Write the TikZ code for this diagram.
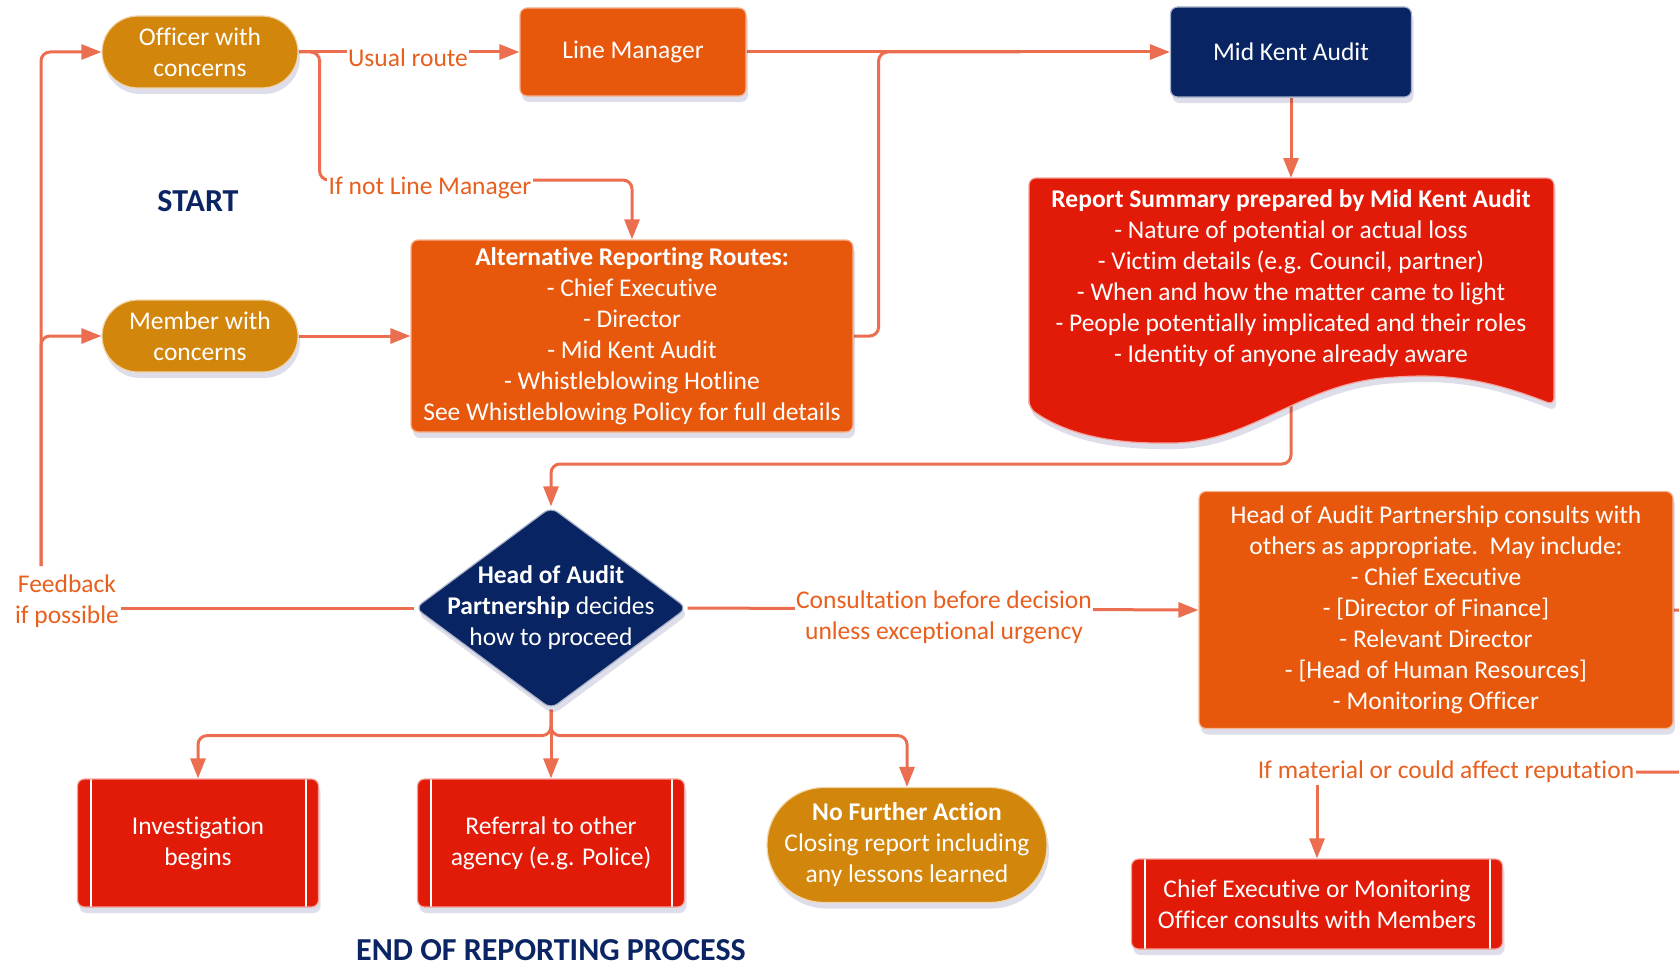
\documentclass[tikz,border=0pt]{standalone}
\usepackage{fontspec}
\setmainfont{Carlito}[Ligatures=NoCommon,RawFeature={-calt,-clig,-liga}]
\usetikzlibrary{shapes.geometric,arrows.meta,shadows,calc}
\pgfdeclarelayer{bg}
\pgfsetlayers{bg,main}
\definecolor{orbox}{RGB}{232,88,12}
\definecolor{gold}{RGB}{211,134,12}
\definecolor{navy}{RGB}{8,36,98}
\definecolor{redbox}{RGB}{226,26,8}
\definecolor{cline}{RGB}{236,110,80}
\definecolor{lbl}{RGB}{232,95,30}
\definecolor{titlenavy}{RGB}{11,36,99}
\newcommand{\bodyfont}{\fontsize{25.5}{31}\selectfont}
\newcommand{\bigfont}{\fontsize{32}{38}\selectfont\bfseries}
\begin{document}
\begin{tikzpicture}[x=1pt,y=-1pt,
  shad/.style={drop shadow={shadow xshift=2pt,shadow yshift=-6pt,opacity=0.13,fill=black!60!blue}},
  base/.style={rectangle, inner sep=0pt, text=white, align=center, font=\bodyfont, line width=1.2pt, shad},
  obox/.style={base, fill=orbox, draw=orbox!45!white, rounded corners=7pt},
  nbox/.style={base, fill=navy, draw=navy!35!white, rounded corners=7pt},
  pill/.style={base, fill=gold, draw=gold!35!white, rounded corners=#1},
  pbox/.style={base, fill=redbox, draw=redbox!40!white, rounded corners=7pt,
    path picture={\draw[white,line width=2pt]
      ([xshift=13pt]path picture bounding box.north west) -- ([xshift=13pt]path picture bounding box.south west)
      ([xshift=-13pt]path picture bounding box.north east) -- ([xshift=-13pt]path picture bounding box.south east);}},
  conn/.style={draw=cline, line width=3pt, rounded corners=9pt},
  arr/.style={conn, -{Triangle[length=20pt,width=15pt]}},
  lab/.style={fill=white, text=lbl, font=\bodyfont, align=center, inner sep=1.5pt},
]
\useasboundingbox (0,0) rectangle (1679,966);

% nodes
\node[pill=36pt, minimum width=196pt, minimum height=72pt] (off) at (200,52) {Officer with\\concerns};
\node[obox, minimum width=226pt, minimum height=88pt] (lm) at (633,52) {Line Manager};
\node[nbox, minimum width=241pt, minimum height=90pt] (mka) at (1291,52) {Mid Kent Audit};
\node[font=\bigfont, text=titlenavy] (start) at (198,201) {START};
\node[obox, minimum width=442pt, minimum height=192pt] (alt) at (632,336)
  {\textbf{Alternative Reporting Routes:}\\- Chief Executive\\- Director\\- Mid Kent Audit\\- Whistleblowing Hotline\\See Whistleblowing Policy for full details};
\node[pill=36pt, minimum width=196pt, minimum height=72pt] (mem) at (200,336) {Member with\\concerns};

% report summary (document shape)
\path[fill=redbox, draw=redbox!40!white, line width=1.2pt, rounded corners=7pt, shad]
  (1029,408) -- (1029,178) -- (1554,178) -- (1554,405)
  .. controls (1490,380) and (1450,374) .. (1395,377)
  .. controls (1300,384) and (1250,443) .. (1165,443)
  .. controls (1100,443) and (1060,430) .. (1029,408) -- cycle;
\node[text=white, font=\bodyfont, align=center, inner sep=0pt] (rep) at (1291,278)
  {\textbf{Report Summary prepared by Mid Kent Audit}\\- Nature of potential or actual loss\\- Victim details (e.g. Council, partner)\\- When and how the matter came to light\\- People potentially implicated and their roles\\- Identity of anyone already aware};
\coordinate (reptop) at (1291,178);
\coordinate (repbot) at (1291,395);

% decision diamond
\node[diamond, fill=navy, draw=navy!35!white, line width=1.2pt, rounded corners=8pt,
  minimum width=272pt, minimum height=202pt, inner sep=0pt, shad] (hap) at (551,608) {};
\node[text=white, font=\bodyfont, align=center] (haptext) at (hap.center)
  {\textbf{Head of Audit}\\\textbf{Partnership} decides\\how to proceed};

\node[obox, minimum width=474pt, minimum height=237pt] (con) at (1436,610)
  {Head of Audit Partnership consults with\\others as appropriate.\ \ May include:\\- Chief Executive\\- [Director of Finance]\\- Relevant Director\\- [Head of Human Resources]\\- Monitoring Officer};

\node[pbox, minimum width=241pt, minimum height=128pt] (inv) at (198,843) {Investigation\\begins};
\node[pbox, minimum width=267pt, minimum height=128pt] (ref) at (551,843) {Referral to other\\agency (e.g. Police)};
\node[pill=57pt, minimum width=280pt, minimum height=115pt] (nfa) at (907,845)
  {\textbf{No Further Action}\\Closing report including\\any lessons learned};
\node[pbox, minimum width=371pt, minimum height=90pt] (ce) at (1317,904)
  {Chief Executive or Monitoring\\Officer consults with Members};
\node[font=\bigfont, text=titlenavy] (endp) at (551,950) {END OF REPORTING PROCESS};

% labels
\node[lab] (usual) at (408,58) {Usual route};
\node[lab] (ifnot) at (430,188) {If not Line Manager};
\node[lab] (fb) at (67,601) {Feedback\\if possible};
\node[lab] (cons) at (944,617) {Consultation before decision\\unless exceptional urgency};
\node[lab] (mat) at (1446,772) {If material or could affect reputation};

% connectors
\begin{pgfonlayer}{bg}
\draw[arr] (off.east) -- (lm.west);
\draw[arr] (off.east) -- ++(21,0) -- ++(0,128) -| (alt.north);
\draw[arr] (lm.east) -- (mka.west);
\draw[conn] (alt.east) -- ++(25,0) |- ($(mka.west)+(-150,0)$);
\draw[arr] (mka.south) -- (reptop);
\draw[arr] (repbot) -- ($(repbot)+(0,69)$) -| (hap.north);
\draw[arr] (hap.east) -- (con.west);
\draw[conn] (hap.west) -- (hap.west -| fb.east);
\coordinate (fbtop) at (41,566);
\draw[arr] (fbtop) |- (off.west);
\draw[arr] (fbtop) |- (mem.west);
\draw[arr] (mem.east) -- (alt.west);
\draw[arr] (hap.south) -- ++(0,26) -| (inv.north);
\draw[arr] (hap.south) -- (ref.north);
\draw[arr] (hap.south) -- ++(0,26) -| (nfa.north);
\draw[conn] (con.east) -- ++(40,0) |- (mat.east);
\draw[arr] (mat.south -| ce.north) -- (ce.north);
\end{pgfonlayer}
\end{tikzpicture}
\end{document}
